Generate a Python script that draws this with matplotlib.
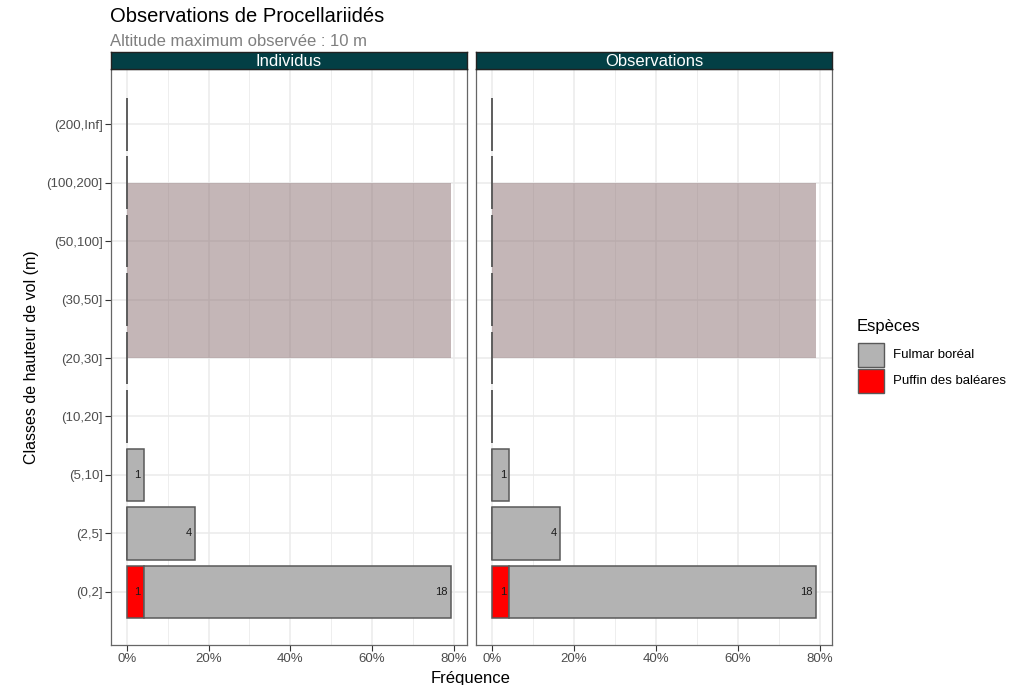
import numpy as np
import matplotlib
matplotlib.use("Agg")
import matplotlib.pyplot as plt
from matplotlib.patches import Rectangle
from matplotlib.ticker import FuncFormatter, MultipleLocator

plt.rcParams['font.family'] = ['Liberation Sans', 'DejaVu Sans']

classes = ['(0,2]', '(2,5]', '(5,10]', '(10,20]', '(20,30]', '(30,50]',
           '(50,100]', '(100,200]', '(200,Inf]']
fulmar = np.array([18, 4, 1, 0, 0, 0, 0, 0, 0])
puffin = np.array([1, 0, 0, 0, 0, 0, 0, 0, 0])
panels = ['Individus', 'Observations']
species = ['Fulmar boréal', 'Puffin des baléares']
colors = ['#b3b3b3', '#ff0000']
zone_lo, zone_hi = '(20,30]', '(100,200]'

total = (fulmar + puffin).sum()
f_puf = puffin / total
f_ful = fulmar / total
ypos = np.arange(1, len(classes) + 1)
xmax = (f_puf + f_ful).max()

W, H = 1019, 685
fig = plt.figure(figsize=(W / 100, H / 100), dpi=100)

def px(x0, y0, x1, y1):
    return [x0 / W, 1 - y1 / H, (x1 - x0) / W, (y1 - y0) / H]

edge = '#595959'
for i, (name, xl) in enumerate(zip(panels, [110.5, 476])):
    ax = fig.add_axes(px(xl, 69.3, xl + 356.3, 645))
    ax.set_xlim(-0.05 * xmax, 1.05 * xmax)
    ax.set_ylim(0.09, 9.94)
    ax.xaxis.set_major_locator(MultipleLocator(0.2))
    ax.xaxis.set_minor_locator(MultipleLocator(0.1))
    ax.xaxis.set_major_formatter(FuncFormatter(lambda v, p: f"{v*100:.0f}%"))
    ax.set_yticks(ypos)
    ax.set_yticklabels(classes if i == 0 else [])
    ax.grid(True, which='major', color='#ebebeb', lw=1.1, zorder=0)
    ax.grid(True, which='minor', axis='x', color='#ebebeb', lw=0.6, zorder=0)
    ax.set_axisbelow(True)
    ax.tick_params(which='major', length=4, color='#333333', width=0.8,
                   labelsize=9.5, labelcolor='#4d4d4d', pad=1.5)
    ax.tick_params(axis='y', left=(i == 0))
    ax.tick_params(which='minor', length=0)
    for s in ax.spines.values():
        s.set_color('#666666')
        s.set_linewidth(0.9)

    # zone d'altitude
    y0 = ypos[classes.index(zone_lo)]
    y1 = ypos[classes.index(zone_hi)]
    ax.add_patch(Rectangle((0, y0), xmax, y1 - y0, facecolor='#8b6f71',
                           alpha=0.5, edgecolor='none', zorder=1))

    ax.barh(ypos, f_puf, height=0.9, color=colors[1], edgecolor=edge, lw=1.1, zorder=2)
    ax.barh(ypos, f_ful, left=f_puf, height=0.9, color=colors[0], edgecolor=edge,
            lw=1.1, zorder=2)

    for y, a, b, na, nb in zip(ypos, f_puf, f_ful, puffin, fulmar):
        if na > 0:
            ax.text(a - 0.008, y, str(na), ha='right', va='center', fontsize=8,
                    color='#1a1a1a', zorder=3)
        if nb > 0:
            ax.text(a + b - 0.008, y, str(nb), ha='right', va='center', fontsize=8,
                    color='#1a1a1a', zorder=3)

    # strip
    sx = fig.add_axes(px(xl, 52.3, xl + 356.3, 69.3))
    sx.set_xticks([])
    sx.set_yticks([])
    sx.set_facecolor('#033f45')
    for s in sx.spines.values():
        s.set_color('#222222')
        s.set_linewidth(1.0)
    sx.text(0.5, 0.45, name, transform=sx.transAxes, ha='center', va='center',
            color='white', fontsize=12)

fig.text(110 / W, 1 - 16 / H, 'Observations de Procellariidés', fontsize=14.5,
         ha='left', va='center')
fig.text(110 / W, 1 - 41 / H, 'Altitude maximum observée : 10 m', fontsize=12,
         color='#7f7f7f', ha='left', va='center')
fig.text(471 / W, 1 - 679 / H, 'Fréquence', fontsize=12, ha='center', va='center')
fig.text(32 / W, 1 - 357 / H, 'Classes de hauteur de vol (m)', fontsize=11.5,
         rotation=90, ha='center', va='center')

# légende
fig.text(857 / W, 1 - 326 / H, 'Espèces', fontsize=12, ha='left', va='center')
for k, (lab, c) in enumerate(zip(species, colors)):
    top = 343 + k * 26.5
    fig.patches.append(Rectangle((858 / W, 1 - (top + 24) / H), 26 / W, 24 / H,
                                 transform=fig.transFigure, facecolor=c,
                                 edgecolor=edge, lw=1.0))
    fig.text(893 / W, 1 - (top + 12) / H, lab, fontsize=9.5, ha='left', va='center')

fig.savefig('out.png', dpi=100)
